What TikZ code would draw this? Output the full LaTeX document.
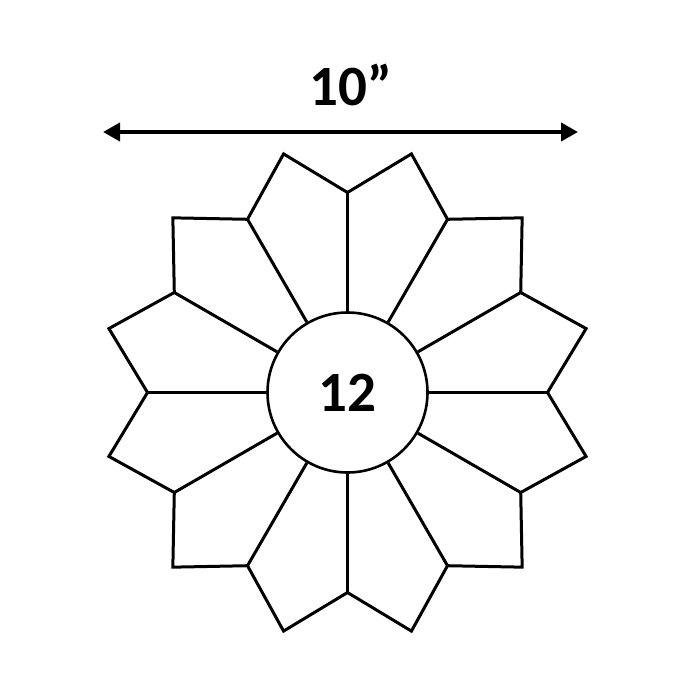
\documentclass[tikz,border=0pt]{standalone}
\usepackage{fontspec}
\setmainfont{Carlito}
\usetikzlibrary{arrows.meta,calc}
\tikzset{
  petal/.style={draw=black, line width=3pt, line join=miter},
  hub/.style={circle, draw=black, line width=2.6pt, minimum size=160pt, inner sep=0pt,
              font=\bfseries\fontsize{57}{62}\selectfont},
  dim/.style={line width=4pt, {Triangle[length=17pt,width=18pt]}-{Triangle[length=17pt,width=18pt]}},
  dimlabel/.style={font=\bfseries\fontsize{57}{62}\selectfont, inner sep=0pt}
}
\begin{document}
\begin{tikzpicture}[x=1pt,y=-1pt]
\useasboundingbox (0,0) rectangle (700,700);
\node[hub] (c) at (347.5,392.5) {12};
\foreach \k in {0,...,11}{
  \coordinate (n\k) at ($(c.center)+({30*\k}:200)$);
  \coordinate (t\k) at ($(c.center)+({30*\k+15}:247)$);
}
\foreach \k [evaluate=\k as \j using {int(mod(\k+1,12))}] in {0,...,11}{
  \draw[petal] (n\k) -- (t\k) -- (n\j);
  \draw[petal] (n\k) -- (c);
}
\coordinate (aL) at (103,132);
\coordinate (aR) at (578,132);
\draw[dim] (aL) -- (aR);
\node[dimlabel] (lbl) at (351,85) {10”};
\end{tikzpicture}
\end{document}
